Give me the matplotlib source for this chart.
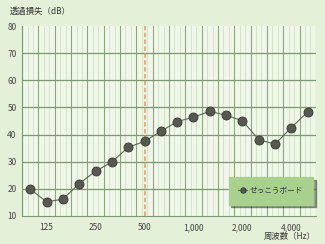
import matplotlib
matplotlib.use('Agg')
import matplotlib.pyplot as plt
import numpy as np

plt.rcParams['font.family'] = ['Noto Sans CJK JP', 'DejaVu Sans']

# 1/3 octave bands 100 .. 5000 Hz
freqs = [100, 125, 160, 200, 250, 315, 400, 500, 630, 800, 1000, 1250,
         1600, 2000, 2500, 3150, 4000, 5000]
gypsum = [19.9, 15.2, 16.2, 21.9, 26.5, 29.9, 35.3, 37.5, 41.2, 44.8, 46.4,
          48.6, 47.1, 45.1, 38.1, 36.5, 42.6, 48.4]
tick_freqs = [125, 250, 500, 1000, 2000, 4000]
tick_labels = ['125', '250', '500', '1,000', '2,000', '4,000']
series_name = 'せっこうボード'
marker_freq = 500

fig = plt.figure(figsize=(3.25, 2.44), dpi=100)
fig.patch.set_facecolor('#e4f1d8')
ax = fig.add_axes([0.068, 0.115, 0.904, 0.778])
ax.set_facecolor('#eff8e8')

x = np.arange(len(freqs))
ax.set_xlim(-0.5, len(freqs) - 0.5)
ax.set_ylim(10, 80)

# grid
for b in np.arange(-0.5, len(freqs), 1.0):
    ax.axvline(b, color='#8fa582', lw=0.8, zorder=1)
for b in np.arange(-0.5, len(freqs) - 0.5, 1.0):
    for f in (1 / 3, 2 / 3):
        ax.axvline(b + f, color='#d2dfc6', lw=0.6, zorder=0.5)
for yv in range(20, 80, 10):
    ax.axhline(yv, color='#7f9672', lw=0.9, zorder=1)

ax.axvline(freqs.index(marker_freq), color='#ee9a4a', lw=1.1,
           ls=(0, (3, 1.5)), zorder=2)

ax.plot(x, gypsum, color='#5e6658', lw=0.8, marker='o', markersize=6.5,
        markerfacecolor='#56594f', markeredgecolor='#35382f',
        markeredgewidth=0.6, zorder=3, label=series_name)

ax.set_xticks([freqs.index(f) for f in tick_freqs])
ax.set_xticklabels(tick_labels)
ax.set_yticks(range(10, 81, 10))
ax.tick_params(length=0, labelsize=6, colors='#444444', pad=5)
ax.tick_params(axis='y', pad=4)
for s in ax.spines.values():
    s.set_visible(False)
ax.spines['left'].set_visible(True)
ax.spines['left'].set_color('#7f9672')
ax.spines['bottom'].set_visible(True)
ax.spines['bottom'].set_color('#7f9672')

fig.text(0.03, 0.952, '透過損失（dB）', fontsize=6, color='#333333', va='center')
fig.text(0.972, 0.032, '周波数（Hz）', fontsize=6, color='#333333',
         va='center', ha='right')

leg = ax.legend(loc='lower right', bbox_to_anchor=(0.99, 0.06), fontsize=5.5,
                frameon=True, fancybox=False, handlelength=1.2, markerscale=0.6,
                borderpad=1.25, handletextpad=0.35, borderaxespad=0, shadow=True)
leg.get_frame().set_facecolor('#a9d18e')
leg.get_frame().set_edgecolor('#a9d18e')
leg.get_frame().set_alpha(1)
for t in leg.get_texts():
    t.set_color('#333333')

fig.savefig('out.png', dpi=100, facecolor=fig.get_facecolor())
